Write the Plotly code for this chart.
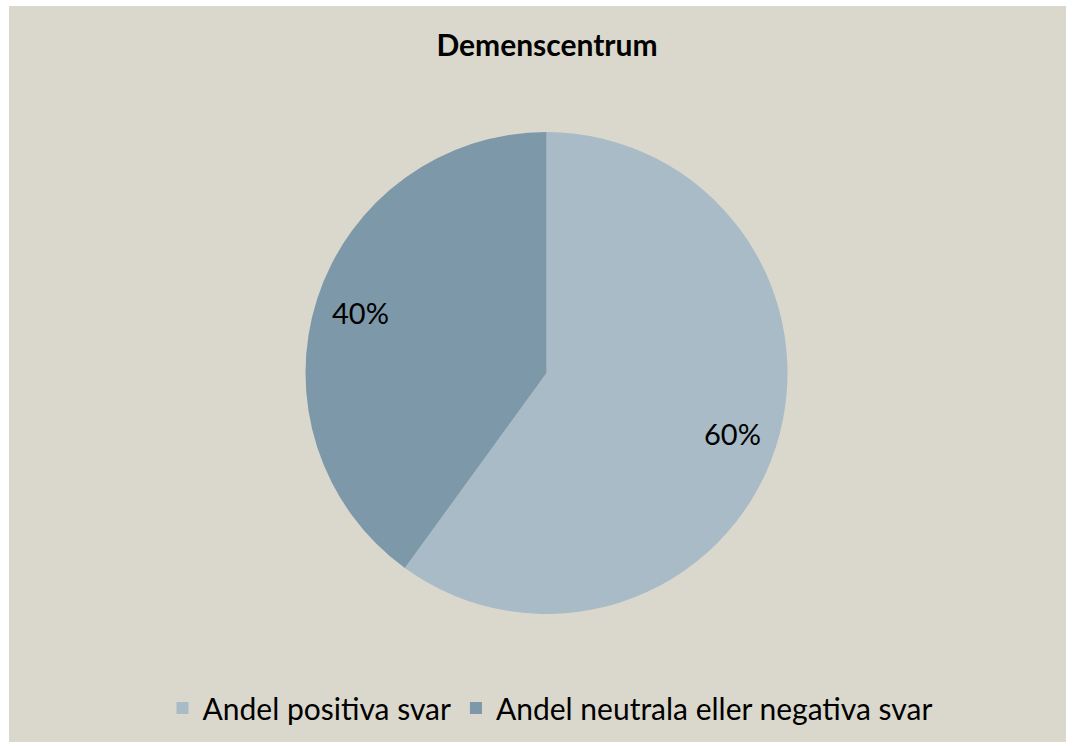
import math
import plotly.graph_objects as go

title = "Demenscentrum"
labels = ["Andel positiva svar", "Andel neutrala eller negativa svar"]
values = [60, 40]
colors = ["#A8BBC6", "#7D98A9"]

W, H = 1066, 742
bg = "#DAD8CC"
font_family = "Lato, 'DejaVu Sans', sans-serif"

# pie geometry (pixels)
cx, cy, R = 546.5, 373.0, 241.0
label_r = 0.81  # fraction of radius for percentage labels

fig = go.Figure(
    go.Pie(
        labels=labels,
        values=values,
        sort=False,
        direction="clockwise",
        rotation=0,
        marker=dict(colors=colors, line=dict(width=0)),
        textinfo="none",
        hoverinfo="label+percent",
        domain=dict(x=[(cx - R) / W, (cx + R) / W], y=[1 - (cy + R) / H, 1 - (cy - R) / H]),
    )
)

# percentage labels placed at the slice mid-angles (computed from values)
total = sum(values)
annotations = []
start = 0.0
for v in values:
    mid = (start + v / 2) / total * 2 * math.pi
    x = cx + label_r * R * math.sin(mid)
    y = cy - label_r * R * math.cos(mid)
    annotations.append(
        dict(
            x=x / W,
            y=1 - y / H,
            xref="paper",
            yref="paper",
            text=f"{round(v / total * 100)}%",
            showarrow=False,
            xanchor="center",
            yanchor="middle",
            font=dict(family=font_family, size=29, color="#000000"),
        )
    )
    start += v

fig.update_layout(
    width=W,
    height=H,
    margin=dict(l=0, r=0, t=0, b=0),
    paper_bgcolor="white",
    plot_bgcolor=bg,
    title=dict(
        text="<b>" + title + "</b>",
        x=547 / W,
        xanchor="center",
        y=1 - 45 / H,
        yanchor="middle",
        font=dict(family=font_family, size=30, color="#000000"),
    ),
    showlegend=True,
    legend=dict(
        orientation="h",
        x=550 / W,
        xanchor="center",
        y=1 - 708 / H,
        yanchor="middle",
        font=dict(family=font_family, size=30, color="#000000"),
        bgcolor="rgba(0,0,0,0)",
        traceorder="normal",
    ),
    annotations=annotations,
    shapes=[
        dict(
            type="rect",
            xref="paper",
            yref="paper",
            x0=9 / W,
            x1=1.01,
            y0=-0.01,
            y1=1 - 6 / H,
            fillcolor=bg,
            line=dict(width=0),
            layer="below",
        )
    ],
)

fig.write_html(
    "out.html",
    config={"displayModeBar": False},
    post_script="document.body.style.margin='0';",
)
